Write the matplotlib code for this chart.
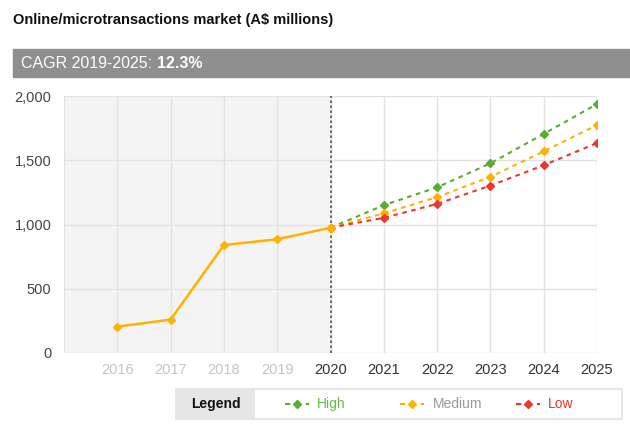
import matplotlib
matplotlib.use("Agg")
import matplotlib.pyplot as plt
from matplotlib.patches import Rectangle
from matplotlib.lines import Line2D

plt.rcParams['font.family'] = ['Liberation Sans', 'DejaVu Sans']

hist_years = [2016, 2017, 2018, 2019, 2020]
hist_values = [205, 260, 840, 885, 975]
fc_years = [2020, 2021, 2022, 2023, 2024, 2025]
high = [975, 1150, 1289, 1476, 1705, 1937]
medium = [975, 1087, 1213, 1371, 1569, 1774]
low = [975, 1052, 1160, 1303, 1461, 1634]
year_ticks = [2016, 2017, 2018, 2019, 2020, 2021, 2022, 2023, 2024, 2025]
y_ticks = [0, 500, 1000, 1500, 2000]

GREEN = '#5aac2f'
ORANGE = '#ffb300'
RED = '#e8382f'

W, H = 630, 425
fig = plt.figure(figsize=(W / 100, H / 100), dpi=100)

def fx(px):
    return px / W

def fy(py):
    return 1 - py / H

ax = fig.add_axes([fx(64), fy(353), fx(597) - fx(64), fy(96) - fy(353)])
ax.set_xlim(2015, 2025)
ax.set_ylim(0, 2000)
ax.set_facecolor('white')
ax.axvspan(2015, 2020, color='#f4f4f4', zorder=0)
for yr in range(2015, 2026):
    ax.axvline(yr, color='#e2e2e2', lw=1, zorder=1)
for v in y_ticks:
    ax.axhline(v, color='#e2e2e2', lw=1, zorder=1)
ax.axvline(2020, color='#555555', lw=1.2, ls=(0, (1.5, 1.5)), zorder=2)

ax.plot(hist_years, hist_values, color=ORANGE, lw=1.8, marker='D', ms=4.5, zorder=5)
ax.plot(fc_years, high, color=GREEN, lw=1.5, ls=(0, (2.2, 2.2)), marker='D', ms=4.5, zorder=4)
ax.plot(fc_years, medium, color=ORANGE, lw=1.5, ls=(0, (2.2, 2.2)), marker='D', ms=4.5, zorder=4)
ax.plot(fc_years, low, color=RED, lw=1.5, ls=(0, (2.2, 2.2)), marker='D', ms=4.5, zorder=4)
ax.plot([2020], [975], color=ORANGE, marker='D', ms=4.5, zorder=6)

for s in ax.spines.values():
    s.set_visible(False)
ax.set_xticks(year_ticks)
ax.set_xticklabels([str(y) for y in year_ticks], fontsize=10.5)
for lab, yr in zip(ax.get_xticklabels(), year_ticks):
    lab.set_color('#c4c4c4' if yr < 2020 else '#333333')
ax.set_yticks(y_ticks)
ax.set_yticklabels([f"{v:,}" for v in y_ticks], fontsize=10.5, color='#444444')
ax.tick_params(axis='x', length=0, pad=7)
ax.tick_params(axis='y', length=0, pad=9)

# Title
fig.text(fx(13), fy(20), 'Online/microtransactions market (A$ millions)', fontsize=10.5,
         fontweight='bold', color='#111111', va='center', ha='left')

# CAGR band
fig.patches.append(Rectangle((fx(13), fy(77)), fx(630) - fx(13), fy(49) - fy(77),
                             transform=fig.transFigure, color='#8f8f8f', zorder=0))
t1 = fig.text(fx(21), fy(63), 'CAGR 2019-2025: ', fontsize=11.5, color='white', va='center', ha='left')
fig.canvas.draw()
bb = t1.get_window_extent()
fig.text(bb.x1 / W, fy(63), '12.3%', fontsize=11.5, color='white', fontweight='bold',
         va='center', ha='left')

# Legend box
fig.patches.append(Rectangle((fx(176), fy(419)), fx(622) - fx(176), fy(389) - fy(419),
                             transform=fig.transFigure, facecolor='white', edgecolor='#e2e2e2',
                             lw=1.2, zorder=0))
fig.patches.append(Rectangle((fx(176), fy(419)), fx(255) - fx(176), fy(389) - fy(419),
                             transform=fig.transFigure, facecolor='#e6e6e6', edgecolor='none',
                             zorder=1))
fig.text(fx(216), fy(404), 'Legend', fontsize=10, fontweight='bold', color='#111111',
         ha='center', va='center')

entries = [('High', GREEN, '#66bb44', 297, 317),
           ('Medium', ORANGE, '#999999', 412, 433),
           ('Low', RED, RED, 528, 548)]
for name, col, tcol, mx, tx in entries:
    fig.lines.append(Line2D([fx(mx - 12), fx(mx + 12)], [fy(404), fy(404)],
                            transform=fig.transFigure, color=col, lw=1.5, ls=(0, (2.5, 2.5))))
    fig.lines.append(Line2D([fx(mx)], [fy(404)], transform=fig.transFigure, color=col,
                            marker='D', ms=4.5, ls='none'))
    fig.text(fx(tx), fy(404), name, fontsize=10, color=tcol, ha='left', va='center')

fig.savefig('out.png', dpi=100)
